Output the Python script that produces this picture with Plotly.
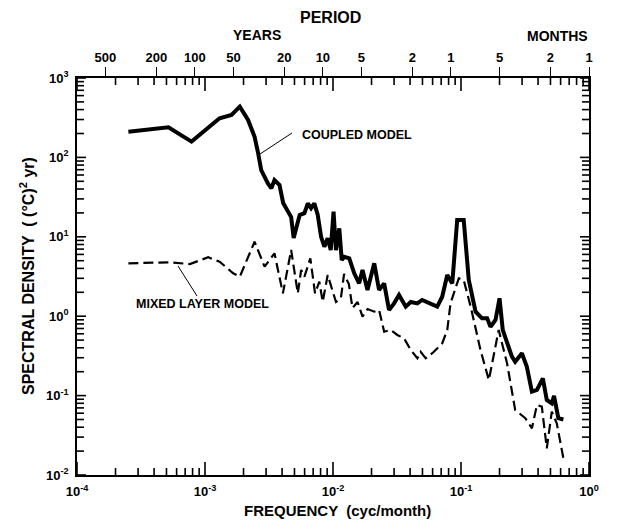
import math
import plotly.graph_objects as go

# Coupled model (solid) - frequency (cyc/month), spectral density ((degC)^2 yr)
coupled_freq = [2.52e-4, 5.18e-4, 7.85e-4, 1.12e-3, 1.30e-3, 1.61e-3, 1.87e-3, 2.17e-3,
                2.44e-3, 2.60e-3, 2.75e-3, 3.10e-3, 3.30e-3, 3.49e-3, 3.82e-3, 4.08e-3,
                4.47e-3, 4.71e-3, 4.93e-3, 5.20e-3, 5.49e-3, 5.98e-3, 6.36e-3, 6.74e-3,
                7.15e-3, 7.60e-3, 8.07e-3, 8.56e-3, 9.09e-3, 9.60e-3, 0.0101, 0.01055,
                0.0112, 0.0117, 0.01226, 0.0134, 0.01465, 0.0160, 0.0170, 0.0186,
                0.0210, 0.0229, 0.0251, 0.0274, 0.0300, 0.0328, 0.0370, 0.0405,
                0.0456, 0.0497, 0.0546, 0.0652, 0.0713, 0.0781, 0.0855, 0.0934,
                0.105, 0.115, 0.130, 0.146, 0.160, 0.170, 0.186, 0.200,
                0.212, 0.229, 0.250, 0.265, 0.299, 0.327, 0.358, 0.392,
                0.436, 0.468, 0.512, 0.533, 0.576, 0.631]
coupled_density = [211, 239, 158, 256, 311, 342, 435, 296,
                   182, 113, 69, 47, 40.8, 51.9, 44.9, 26.7,
                   20.5, 17.7, 9.66, 13.3, 18.8, 19.8, 26.4, 22.9,
                   26.4, 18.8, 10.0, 7.5, 9.57, 6.8, 20.7, 6.8,
                   12.8, 5.1, 5.6, 5.36, 3.47, 2.59, 3.82, 2.14,
                   4.63, 2.14, 2.59, 1.20, 1.45, 1.85, 1.32, 1.51,
                   1.45, 1.60, 1.51, 1.32, 1.76, 3.30, 2.59, 16.3,
                   16.3, 2.86, 1.14, 0.94, 0.94, 0.738, 0.895, 1.68,
                   0.67, 0.456, 0.309, 0.267, 0.341, 0.231, 0.112, 0.118,
                   0.165, 0.088, 0.080, 0.099, 0.052, 0.050]

# Mixed layer model (dashed)
mixed_freq = [2.52e-4, 5.18e-4, 7.62e-4, 1.06e-3, 1.30e-3, 1.66e-3, 1.87e-3, 2.44e-3,
              2.92e-3, 3.49e-3, 4.06e-3, 4.71e-3, 5.31e-3, 5.64e-3, 5.98e-3, 6.65e-3,
              7.24e-3, 7.82e-3, 8.31e-3, 9.09e-3, 0.01055, 0.01153, 0.0122, 0.0133,
              0.0142, 0.01556, 0.0170, 0.0186, 0.0210, 0.0229, 0.0251, 0.0282,
              0.0318, 0.0359, 0.0405, 0.0456, 0.0484, 0.0530, 0.0611, 0.0713,
              0.0781, 0.0828, 0.0961, 0.105, 0.119, 0.142, 0.165, 0.197,
              0.229, 0.265, 0.318, 0.358, 0.392, 0.428, 0.468, 0.512,
              0.560, 0.631]
mixed_density = [4.63, 4.77, 4.54, 5.52, 4.86, 3.47, 3.14, 8.67,
                 4.20, 6.19, 1.94, 6.82, 1.94, 3.82, 3.14, 5.36,
                 1.94, 2.72, 1.52, 3.30, 1.51, 1.69, 3.40, 2.54,
                 1.27, 1.51, 0.985, 1.23, 1.14, 1.20, 0.638, 0.67,
                 0.58, 0.527, 0.375, 0.295, 0.357, 0.295, 0.354, 0.456,
                 0.67, 1.45, 3.0, 2.86, 1.32, 0.375, 0.157, 0.67,
                 0.255, 0.066, 0.052, 0.0387, 0.076, 0.0725, 0.0217, 0.0627,
                 0.0448, 0.0162]

# Axis tick labels
x_tick_vals = [1e-4, 1e-3, 1e-2, 1e-1, 1e0]
x_tick_text = ["10<sup>-4</sup>", "10<sup>-3</sup>", "10<sup>-2</sup>", "10<sup>-1</sup>", "10<sup>0</sup>"]
y_tick_vals = [1e-2, 1e-1, 1e0, 1e1, 1e2, 1e3]
y_tick_text = ["10<sup>-2</sup>", "10<sup>-1</sup>", "10<sup>0</sup>", "10<sup>1</sup>", "10<sup>2</sup>", "10<sup>3</sup>"]

# Period axis (top)
period_years = [500, 200, 100, 50, 20, 10, 5, 2, 1]
period_months = [5, 2, 1]

period_vals = [1.0 / (12.0 * p) for p in period_years] + [1.0 / m for m in period_months]
period_text = [str(p) for p in period_years] + [str(m) for m in period_months]

FONT = "Liberation Sans, Arial, Helvetica, sans-serif"
W, H = 617, 524
L, R, T, B = 77, 28, 78, 49
PW, PH = W - L - R, H - T - B
XR = [-4, 0]
YR = [-2, 3]


def px(x):
    return (x - L) / PW


def py(y):
    return (H - B - y) / PH


def xfrac(v):
    return (math.log10(v) - XR[0]) / (XR[1] - XR[0])


def yfrac(v):
    return (math.log10(v) - YR[0]) / (YR[1] - YR[0])


bold = lambda s: "<b>" + s + "</b>"

fig = go.Figure()
fig.add_trace(go.Scatter(x=coupled_freq, y=coupled_density, mode="lines",
                         line=dict(color="black", width=4), showlegend=False))
fig.add_trace(go.Scatter(x=mixed_freq, y=mixed_density, mode="lines",
                         line=dict(color="black", width=2.2, dash="10px,5px"), showlegend=False))
# invisible trace to activate the period axis
fig.add_trace(go.Scatter(x=[1e-4, 1], y=[1, 1], xaxis="x2", mode="lines",
                         line=dict(width=0), hoverinfo="skip", showlegend=False))

tickfont = dict(family=FONT, size=13, color="black")
cx = dict(type="log", range=XR, showgrid=False, zeroline=False)

fig.update_layout(
    width=W, height=H,
    margin=dict(l=L, r=R, t=T, b=B),
    paper_bgcolor="white", plot_bgcolor="white",
    xaxis=dict(**cx, tickvals=x_tick_vals, ticktext=[bold(t) for t in x_tick_text],
               ticks="", ticklabelstandoff=4,
               showline=True, linecolor="black", linewidth=1.5, mirror=True,
               tickfont=tickfont),
    xaxis2=dict(**cx, overlaying="x", side="top", anchor="y",
                tickvals=period_vals, ticktext=[bold(t) for t in period_text],
                ticks="outside", ticklen=10, tickwidth=1.4, tickcolor="black",
                showline=False, tickfont=tickfont),
    yaxis=dict(type="log", range=YR, showgrid=False, zeroline=False,
               tickvals=y_tick_vals, ticktext=[bold(t) for t in y_tick_text],
               ticks="", ticklabelstandoff=4,
               showline=True, linecolor="black", linewidth=1.5, mirror=True,
               tickfont=tickfont),
)

# log tick marks drawn inside on all four sides (decades longer on x)
shapes = []
TW = 1.6
for i, d in enumerate(x_tick_vals):
    marks = [(d, 13)] + ([(k * d, 7) for k in range(2, 10)] if i < len(x_tick_vals) - 1 else [])
    for v, ln in marks:
        f = xfrac(v)
        shapes.append(dict(type="line", xref="paper", yref="paper", x0=f, x1=f,
                           y0=0, y1=ln / PH, line=dict(color="black", width=TW)))
        shapes.append(dict(type="line", xref="paper", yref="paper", x0=f, x1=f,
                           y0=1, y1=1 - ln / PH, line=dict(color="black", width=TW)))
for i, d in enumerate(y_tick_vals):
    marks = [(d, 9)] + ([(k * d, 7) for k in range(2, 10)] if i < len(y_tick_vals) - 1 else [])
    for v, ln in marks:
        f = yfrac(v)
        shapes.append(dict(type="line", xref="paper", yref="paper", x0=0, x1=ln / PW,
                           y0=f, y1=f, line=dict(color="black", width=TW)))
        shapes.append(dict(type="line", xref="paper", yref="paper", x0=1, x1=1 - ln / PW,
                           y0=f, y1=f, line=dict(color="black", width=TW)))

# leader lines
for (x0, y0, x1, y1) in [(260, 154, 292, 133), (178, 266, 197, 296)]:
    shapes.append(dict(type="line", xref="paper", yref="paper",
                       x0=px(x0), y0=py(y0), x1=px(x1), y1=py(y1),
                       line=dict(color="black", width=1)))
fig.update_layout(shapes=shapes)

annos = [
    dict(text=bold("PERIOD"), x=px(330), y=py(17), size=16),
    dict(text=bold("YEARS"), x=px(257), y=py(35), size=14),
    dict(text=bold("MONTHS"), x=px(557), y=py(36), size=14),
    dict(text=bold("FREQUENCY  (cyc/month)"), x=px(337), y=py(510), size=15),
    dict(text=bold("COUPLED MODEL"), x=px(357), y=py(135), size=12.5),
    dict(text=bold("MIXED LAYER MODEL"), x=px(202), y=py(304), size=12.5),
]
for a in annos:
    fig.add_annotation(text=a["text"], x=a["x"], y=a["y"], xref="paper", yref="paper",
                       showarrow=False, xanchor="center", yanchor="middle",
                       font=dict(family=FONT, size=a["size"], color="black"))
fig.add_annotation(text=bold("SPECTRAL DENSITY  ( (°C)<sup>2</sup> yr)"), x=px(27), y=py(276),
                   xref="paper", yref="paper", showarrow=False, textangle=-90,
                   xanchor="center", yanchor="middle",
                   font=dict(family=FONT, size=16, color="black"))

fig.write_html("out.html")
